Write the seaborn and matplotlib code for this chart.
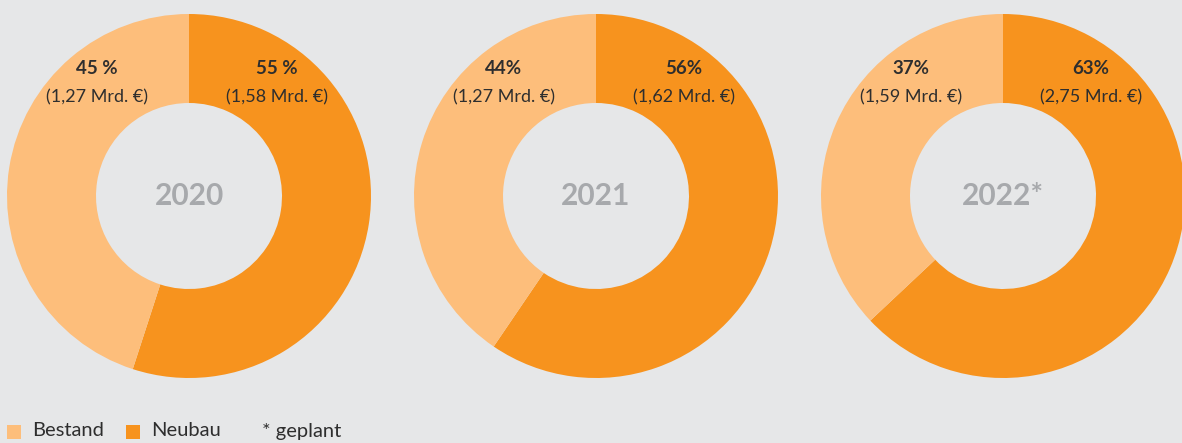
import matplotlib
matplotlib.use("Agg")
import matplotlib.pyplot as plt
import seaborn as sns

years = ["2020", "2021", "2022*"]
# wedge shares as drawn in the picture
bestand = [45, 40.5, 37]
neubau = [55, 59.5, 63]
bestand_label = ["45 %", "44%", "37%"]
neubau_label = ["55 %", "56%", "63%"]
bestand_mrd = ["(1,27 Mrd. €)", "(1,27 Mrd. €)", "(1,59 Mrd. €)"]
neubau_mrd = ["(1,58 Mrd. €)", "(1,62 Mrd. €)", "(2,75 Mrd. €)"]
legend_labels = ["Bestand", "Neubau"]

sns.set_theme(style="white")
plt.rcParams['font.family'] = ['Lato', 'DejaVu Sans']

bg = "#e6e7e8"
colors = ["#fdbe7b", "#f7931e"]
text_dark = "#2e2e2e"

fig = plt.figure(figsize=(11.82, 4.43), dpi=100, facecolor=bg)
ax = fig.add_axes([0, 0, 1, 1])
ax.set_facecolor(bg)

centers_x = [189, 596, 1003]
cy = 443 - 196
r = 182

for i, year in enumerate(years):
    cx = centers_x[i]
    ax.pie([neubau[i], bestand[i]], colors=[colors[1], colors[0]],
           startangle=90, counterclock=False, center=(cx, cy), radius=r,
           wedgeprops=dict(width=r - 93, linewidth=0), frame=True)
    ax.text(cx, cy, year, ha="center", va="center", fontsize=21.5,
            fontweight="bold", color="#a7a9ac")
    ax.text(cx - 92, 443 - 68, bestand_label[i], ha="center", va="center",
            fontsize=13.5, fontweight="bold", color=text_dark)
    ax.text(cx - 92, 443 - 97, bestand_mrd[i], ha="center", va="center",
            fontsize=13, color=text_dark)
    ax.text(cx + 88, 443 - 68, neubau_label[i], ha="center", va="center",
            fontsize=13.5, fontweight="bold", color=text_dark)
    ax.text(cx + 88, 443 - 97, neubau_mrd[i], ha="center", va="center",
            fontsize=13, color=text_dark)

ax.set_xlim(0, 1182)
ax.set_ylim(0, 443)
ax.set_aspect("equal")
ax.axis("off")

# legend
leg_x = [7, 126]
for i, lab in enumerate(legend_labels):
    ax.add_patch(plt.Rectangle((leg_x[i], 443 - 439), 14, 14, color=colors[i], lw=0))
    ax.text(leg_x[i] + 25, 443 - 431, lab, ha="left", va="center",
            fontsize=14.5, color=text_dark)
ax.text(262, 443 - 431, "* geplant", ha="left", va="center",
        fontsize=14.5, color=text_dark)

fig.savefig("out.png", dpi=100, facecolor=bg)
